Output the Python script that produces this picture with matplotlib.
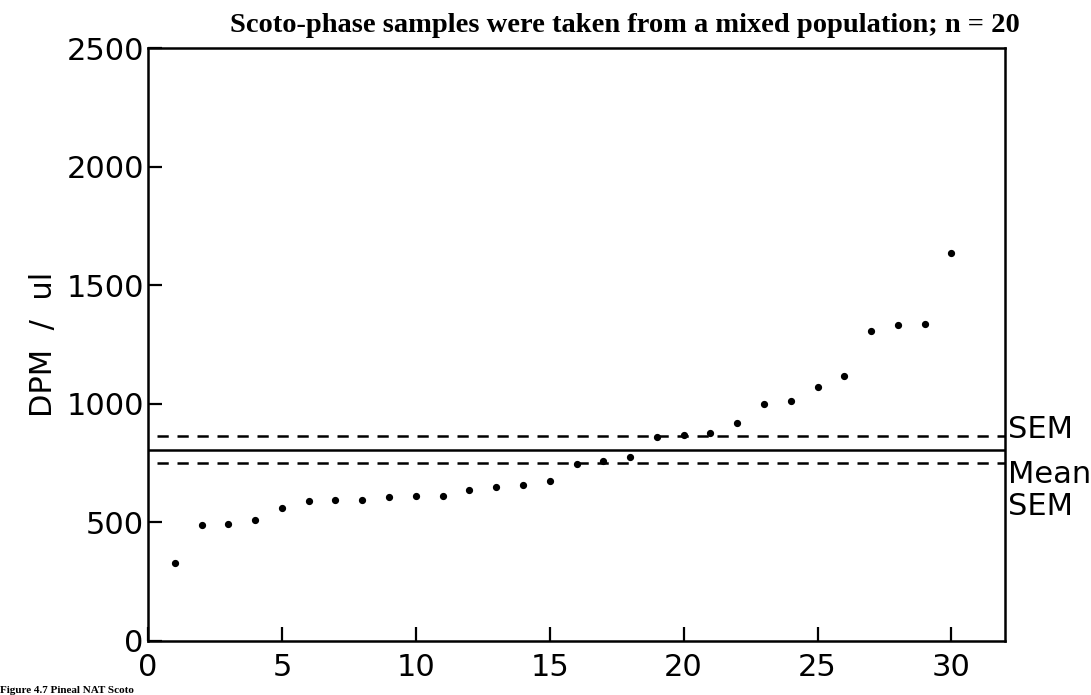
import matplotlib
matplotlib.use("Agg")
import matplotlib.pyplot as plt

# Data
sample_index = list(range(1, 31))
dpm_values = [330, 490, 495, 511, 559, 590, 593, 596, 606, 613,
              613, 635, 648, 656, 673, 746, 760, 777, 860, 868,
              875, 919, 999, 1010, 1069, 1117, 1308, 1332, 1336, 1636]
mean_value = 805
sem_upper = 865
sem_lower = 750
line_labels = ["SEM", "Mean", "SEM"]
x_ticks = [0, 5, 10, 15, 20, 25, 30]
y_ticks = [0, 500, 1000, 1500, 2000, 2500]
title = "Scoto-phase samples were taken from a mixed population; n = 20"
y_label = "DPM  /  ul"
caption = "Figure 4.7 Pineal NAT Scoto"

fig = plt.figure(figsize=(10.91, 6.95), dpi=100)
ax = fig.add_axes([148/1091, 1-641/695, (1005-148)/1091, (641-48)/695])

ax.plot(sample_index, dpm_values, 'o', color='black', markersize=4.2, linestyle='none')
ax.plot([0, 32], [mean_value, mean_value], color='black', lw=1.8)
ax.plot([0.35, 32], [sem_upper, sem_upper], color='black', lw=1.8, dashes=(4.5, 3.5))
ax.plot([0.35, 32], [sem_lower, sem_lower], color='black', lw=1.8, dashes=(4.5, 3.5))

ax.set_xlim(0, 32)
ax.set_ylim(0, 2500)
ax.set_xticks(x_ticks)
ax.set_yticks(y_ticks)
ax.tick_params(direction='in', length=10, width=1.6, labelsize=22,
               top=False, right=False)
ax.tick_params(axis='x', pad=9)
ax.tick_params(axis='y', pad=3)
for s in ax.spines.values():
    s.set_linewidth(1.8)

ax.set_ylabel(y_label, fontsize=22, family='DejaVu Sans', labelpad=6)

# right-hand labels
trans = ax.get_yaxis_transform()
ax.text(1.003, 890, line_labels[0], transform=trans, fontsize=22, va='center', ha='left', clip_on=False)
ax.text(1.003, 700, line_labels[1], transform=trans, fontsize=22, va='center', ha='left', clip_on=False)
ax.text(1.003, 565, line_labels[2], transform=trans, fontsize=22, va='center', ha='left', clip_on=False)

fig.text(625/1091, 1-25/695, title, family='Liberation Serif', fontweight='bold',
         fontsize=20.5, ha='center', va='center')
fig.text(0.0, 0.0, caption, family='Liberation Serif',
         fontweight='bold', fontsize=8, ha='left', va='bottom')

fig.savefig("out.png", dpi=100)
